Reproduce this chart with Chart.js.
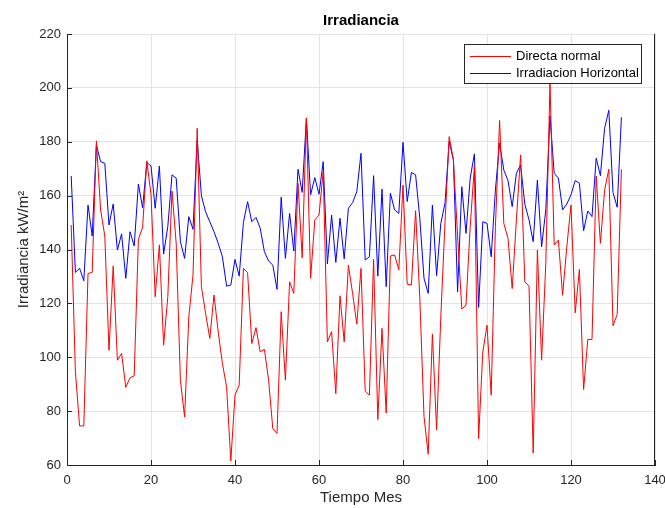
<!DOCTYPE html>
<html lang="es">
<head>
    <meta charset="UTF-8">
    <title>Irradiancia</title>
    <style>
        body {
            margin: 0;
            background: #fff;
        }
        #chartBox {
            width: 665px;
            height: 508px;
        }
    </style>
    <script src="https://cdn.jsdelivr.net/npm/chart.js"></script>
</head>
<body>
    <div id="chartBox">
        <canvas id="irrChart" width="665" height="508"></canvas>
    </div>

    <script>
        // months 1..132 (x index)
        const months = Array.from({ length: 132 }, (_, i) => i + 1);

        const directaNormal = [
            149.1, 94.6, 74.5, 74.5, 131.1, 131.5, 180.3, 154.7, 145, 102.6,
            133.9, 98.9, 101.4, 88.8, 92.4, 93.1, 143.8, 148.2, 172.9, 160.5,
            122.5, 141.7, 104.5, 122.5, 161.7, 142.3, 91.5, 77.8, 115, 130.5,
            185, 126.2, 116.3, 107, 123.1, 109.5, 97.7, 89, 61.5, 86,
            89.7, 133, 131.4, 105.1, 111, 102, 102.9, 91.5, 73.5, 71.7,
            116.9, 91.5, 128, 123.7, 164.6, 136.9, 188.8, 129.3, 151, 152.8,
            168.9, 105.7, 109.5, 86.5, 122.8, 105.7, 134.2, 123.7, 112.3, 133,
            87.5, 85.9, 136.3, 76.9, 110.7, 79.3, 137.6, 138, 132.4, 163.9,
            127.1, 126.8, 154.4, 122, 78, 64, 108.6, 73, 115, 150,
            181.9, 173.3, 145, 117.9, 119.4, 148.5, 171, 69.8, 102, 111.9,
            85.9, 148.5, 187.9, 149.7, 144.1, 125.5, 151, 175.1, 128, 126.4,
            64.4, 139.8, 98.9, 134.8, 202, 141.7, 143.5, 123, 141, 156.5,
            116.5, 132.6, 88, 106.6, 106.6, 167.3, 142.3, 162, 169.8, 111.7,
            115.9, 169.8
        ];

        const irradHorizontal = [
            167.3, 131.5, 133, 128.4, 156.5, 145, 178.8, 172.6, 172, 149.1,
            156.9, 139.8, 145.8, 129.3, 146.6, 141.3, 164.3, 155.5, 172.3, 171,
            155.3, 171, 138.3, 148.5, 167.7, 166.5, 142.9, 136.7, 152.2, 147.5,
            180.7, 160, 154, 150.3, 146.6, 142.3, 137.3, 126.4, 126.8, 136.3,
            130.1, 150, 157.8, 150.3, 151.9, 147.9, 139.2, 135.7, 134.2, 125.2,
            159.4, 136.7, 153.4, 139.4, 169.8, 161.2, 188.8, 160.3, 166.7, 160.5,
            172.6, 134.6, 152.8, 135.2, 151.6, 136.5, 155.3, 157.4, 161.5, 175.7,
            136.1, 137.3, 167.4, 130.1, 162.4, 126.2, 160.9, 154.7, 153.4, 179.8,
            157.8, 168.6, 167.7, 151.6, 129.3, 123.7, 156.5, 130.3, 149.7, 157.2,
            180.1, 173.3, 124.3, 163.3, 146, 166.5, 175.5, 118.5, 150.3, 149.7,
            137.3, 162.1, 179.5, 169.5, 165.6, 155.9, 168.3, 171.4, 156.9, 151,
            142.9, 165.8, 141, 154.7, 189.6, 168.3, 166.5, 154.7, 156.9, 160.3,
            165.6, 164.6, 147, 154.3, 152.2, 173.9, 167.4, 185, 191.7, 161.2,
            155.7, 189.1
        ];

        const seriesNames = ['Directa normal', 'Irradiacion Horizontal'];
        const seriesColors = ['#ff0000', '#0000ff'];

        const xTicks = [0, 20, 40, 60, 80, 100, 120, 140];
        const yTicks = [60, 80, 100, 120, 140, 160, 180, 200, 220];

        const FONT = "'Liberation Sans', Arial, Helvetica, sans-serif";
        const AXIS_COLOR = '#262626';

        function toPoints(values) {
            return values.map((v, i) => ({ x: months[i], y: v }));
        }

        // white background, title, inward ticks, right border, legend box
        const matlabLook = {
            id: 'matlabLook',
            beforeDraw(chart) {
                const ctx = chart.ctx;
                ctx.save();
                ctx.fillStyle = '#fff';
                ctx.fillRect(0, 0, chart.width, chart.height);
                ctx.restore();
            },
            afterDraw(chart) {
                const ctx = chart.ctx;
                const area = chart.chartArea;
                const xs = chart.scales.x;
                const ys = chart.scales.y;
                ctx.save();

                // right border
                ctx.strokeStyle = AXIS_COLOR;
                ctx.lineWidth = 1;
                ctx.beginPath();
                ctx.moveTo(Math.round(area.right) - 0.5, area.top);
                ctx.lineTo(Math.round(area.right) - 0.5, area.bottom);
                ctx.stroke();

                // inward ticks
                ctx.beginPath();
                xTicks.forEach(t => {
                    const px = Math.round(xs.getPixelForValue(t)) + 0.5;
                    ctx.moveTo(px, area.bottom);
                    ctx.lineTo(px, area.bottom - 5);
                });
                yTicks.forEach(t => {
                    const py = Math.round(ys.getPixelForValue(t)) + 0.5;
                    ctx.moveTo(area.left, py);
                    ctx.lineTo(area.left + 5, py);
                });
                ctx.stroke();

                // title
                ctx.fillStyle = '#000';
                ctx.font = 'bold 15px ' + FONT;
                ctx.textAlign = 'center';
                ctx.textBaseline = 'middle';
                ctx.fillText('Irradiancia', (area.left + area.right) / 2, 21);

                // legend
                const lx = 464.5, ly = 44.5, lw = 177, lh = 39;
                ctx.fillStyle = '#fff';
                ctx.fillRect(lx, ly, lw, lh);
                ctx.strokeStyle = AXIS_COLOR;
                ctx.strokeRect(lx, ly, lw, lh);
                ctx.font = '13px ' + FONT;
                ctx.textAlign = 'left';
                seriesNames.forEach((name, i) => {
                    const y = 56.5 + i * 17;
                    ctx.strokeStyle = seriesColors[i];
                    ctx.beginPath();
                    ctx.moveTo(470, y);
                    ctx.lineTo(511, y);
                    ctx.stroke();
                    ctx.fillStyle = '#000';
                    ctx.fillText(name, 516, y);
                });
                ctx.restore();
            }
        };

        const ctx = document.getElementById('irrChart').getContext('2d');
        new Chart(ctx, {
            type: 'line',
            data: {
                datasets: [
                    {
                        label: seriesNames[0],
                        data: toPoints(directaNormal),
                        borderColor: seriesColors[0],
                        borderWidth: 1,
                        pointRadius: 0,
                        tension: 0
                    },
                    {
                        label: seriesNames[1],
                        data: toPoints(irradHorizontal),
                        borderColor: seriesColors[1],
                        borderWidth: 1,
                        pointRadius: 0,
                        tension: 0
                    }
                ]
            },
            options: {
                responsive: false,
                animation: false,
                layout: {
                    padding: { top: 34, right: 10, left: 0, bottom: 0 }
                },
                plugins: {
                    legend: { display: false },
                    title: { display: false },
                    tooltip: { enabled: false }
                },
                scales: {
                    x: {
                        type: 'linear',
                        min: 0,
                        max: 140,
                        afterFit: s => {
                            s.height = 43;
                            s.paddingLeft = 0;
                            s.paddingRight = 0;
                        },
                        afterBuildTicks: s => { s.ticks = xTicks.map(v => ({ value: v })); },
                        ticks: {
                            color: AXIS_COLOR,
                            font: { family: FONT, size: 13 },
                            padding: 8,
                            maxRotation: 0
                        },
                        grid: {
                            color: '#e3e3e3',
                            drawTicks: false
                        },
                        border: { color: AXIS_COLOR },
                        title: {
                            display: true,
                            text: 'Tiempo Mes',
                            color: AXIS_COLOR,
                            font: { family: FONT, size: 15 },
                            padding: { top: 4, bottom: 1 }
                        }
                    },
                    y: {
                        min: 60,
                        max: 220,
                        afterFit: s => {
                            s.width = 67;
                            s.paddingTop = 0;
                            s.paddingBottom = 0;
                        },
                        afterBuildTicks: s => { s.ticks = yTicks.map(v => ({ value: v })); },
                        ticks: {
                            color: AXIS_COLOR,
                            font: { family: FONT, size: 13 },
                            padding: 6
                        },
                        grid: {
                            color: '#e3e3e3',
                            drawTicks: false
                        },
                        border: { color: AXIS_COLOR },
                        title: {
                            display: true,
                            text: 'Irradiancia kW/m²',
                            color: AXIS_COLOR,
                            font: { family: FONT, size: 15 },
                            padding: { top: 15, bottom: 0 }
                        }
                    }
                }
            },
            plugins: [matlabLook]
        });
    </script>
</body>
</html>
